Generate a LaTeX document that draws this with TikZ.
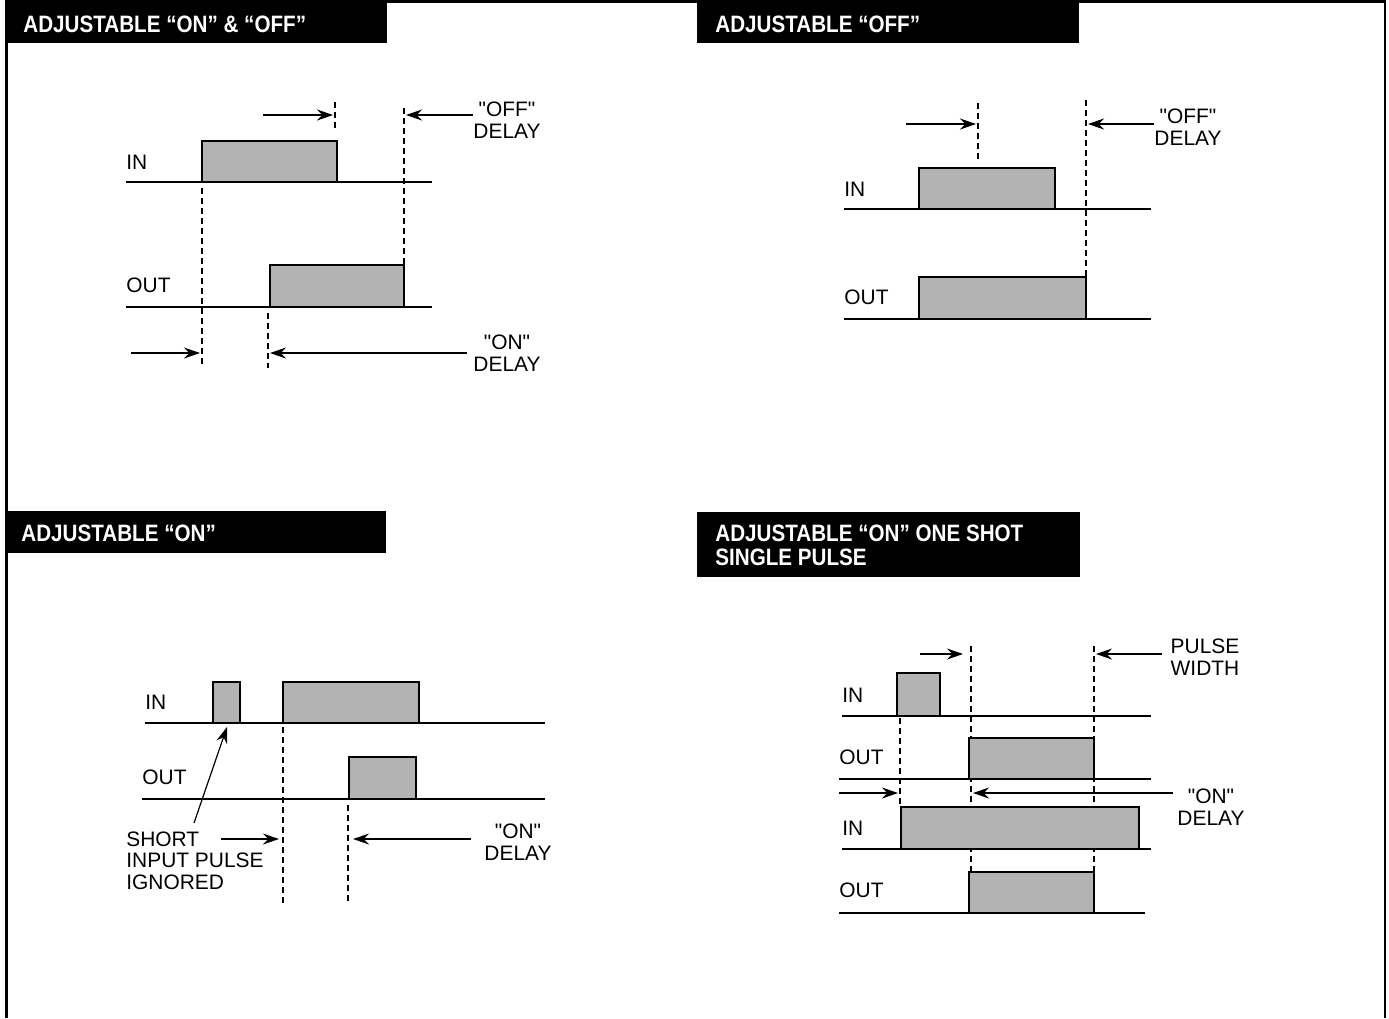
\documentclass[tikz,border=0pt]{standalone}
\usepackage{fontspec}
\setmainfont{Liberation Sans}
\newfontfamily\labelfont{Liberation Sans}
\newfontfamily\titlefont[FakeStretch=0.87]{Liberation Sans}
\definecolor{PulseGray}{HTML}{B3B3B3}
\usetikzlibrary{arrows.meta}

\begin{document}
\begin{tikzpicture}[x=0.5bp, y=-0.5bp,
  >={Stealth[length=8bp, width=5.5bp]},
  wave/.style={line width=1.4bp},
  pulse/.style={draw, line width=1.2bp, fill=PulseGray},
  guide/.style={line width=1bp, dash pattern=on 3bp off 2bp},
  delay/.style={->, line width=0.6bp},
  lbl/.style={font=\labelfont\fontsize{10.5}{10.8}\selectfont, inner sep=0pt},
  ttl/.style={font=\titlefont\bfseries\fontsize{11.9}{11.8}\selectfont,
              text=white, inner sep=0pt, align=left}]
  \useasboundingbox (0,0) rectangle (1389,1018);
  % frame
  \draw[line width=1.3bp] (6.5,1018) |- (1385,1.5) -- (1385,1018);

  % adjustable on & off
  \fill (5,0) rectangle (387,43);
  \node[ttl, anchor=west] (t1) at (23,24) {ADJUSTABLE “ON” \& “OFF”};
  \draw[guide] (202,188) -- (202,368);
  \draw[guide] (268,313) -- (268,368);
  \draw[guide] (335,102) -- (335,131);
  \draw[guide] (404,108) -- (404,265);
  \filldraw[pulse] (202,182) rectangle (337,141);
  \filldraw[pulse] (270,307) rectangle (404,265);
  \draw[wave] (126,182) -- (432,182);
  \draw[wave] (126,307) -- (432,307);
  \node[lbl, anchor=west] (in1) at (126,162) {IN};
  \node[lbl, anchor=west] (out1) at (126,285) {OUT};
  \node[lbl, align=center] (off1) at (507,120) {"OFF"\\DELAY};
  \node[lbl, align=center] (on1) at (507,353) {"ON"\\DELAY};
  \coordinate (a1) at (263,115);   \coordinate (b1) at (333,115);
  \coordinate (a2) at (473,115);   \coordinate (b2) at (406,115);
  \coordinate (a3) at (131,353);   \coordinate (b3) at (200,353);
  \coordinate (a4) at (467,353);   \coordinate (b4) at (270,353);
  \draw[delay] (a1) -- (b1);
  \draw[delay] (a2) -- (b2);
  \draw[delay] (a3) -- (b3);
  \draw[delay] (a4) -- (b4);

  % adjustable off
  \fill (697,0) rectangle (1079,43);
  \node[ttl, anchor=west] (t2) at (715,24) {ADJUSTABLE “OFF”};
  \draw[guide] (978,103) -- (978,163);
  \draw[guide] (1086,100) -- (1086,277);
  \filldraw[pulse] (919,209) rectangle (1055,168);
  \filldraw[pulse] (919,319) rectangle (1086,277);
  \draw[wave] (844,209) -- (1151,209);
  \draw[wave] (844,319) -- (1151,319);
  \node[lbl, anchor=west] (in2) at (844,189) {IN};
  \node[lbl, anchor=west] (out2) at (844,297) {OUT};
  \node[lbl, align=center] (off2) at (1188,127) {"OFF"\\DELAY};
  \coordinate (c1) at (906,124);   \coordinate (d1) at (976,124);
  \coordinate (c2) at (1154,124);  \coordinate (d2) at (1088,124);
  \draw[delay] (c1) -- (d1);
  \draw[delay] (c2) -- (d2);

  % adjustable on
  \fill (5,511) rectangle (386,553);
  \node[ttl, anchor=west] (t3) at (21,533) {ADJUSTABLE “ON”};
  \draw[guide] (283,727) -- (283,903);
  \draw[guide] (348,805) -- (348,903);
  \filldraw[pulse] (213,723) rectangle (240,682);
  \filldraw[pulse] (283,723) rectangle (419,682);
  \filldraw[pulse] (349,799) rectangle (416,757);
  \draw[wave] (145,723) -- (545,723);
  \draw[wave] (142,799) -- (545,799);
  \node[lbl, anchor=west] (in3) at (145,702) {IN};
  \node[lbl, anchor=west] (out3) at (142,777) {OUT};
  \node[lbl, anchor=north west, align=left] (short) at (126,831)
    {SHORT\\INPUT PULSE\\IGNORED};
  \node[lbl, align=center] (on3) at (518,842) {"ON"\\DELAY};
  \coordinate (e1) at (194,823);   \coordinate (f1) at (227,727);
  \coordinate (e2) at (221,839);   \coordinate (f2) at (279,839);
  \coordinate (e3) at (471,839);   \coordinate (f3) at (353,839);
  \draw[delay] (e1) -- (f1);
  \draw[delay] (e2) -- (f2);
  \draw[delay] (e3) -- (f3);

  % one shot single pulse
  \fill (697,512) rectangle (1080,577);
  \node[ttl, anchor=north west] (t4) at (715,525)
    {ADJUSTABLE “ON” ONE SHOT\\SINGLE PULSE};
  \draw[guide] (900,718) -- (900,807);
  \draw[guide] (971,646) -- (971,872);
  \draw[guide] (1094,646) -- (1094,872);
  \filldraw[pulse] (897,716) rectangle (940,673);
  \filldraw[pulse] (969,779) rectangle (1094,738);
  \filldraw[pulse] (901,849) rectangle (1139,807);
  \filldraw[pulse] (969,913) rectangle (1094,872);
  \draw[wave] (842,716) -- (1151,716);
  \draw[wave] (839,779) -- (1151,779);
  \draw[wave] (842,849) -- (1151,849);
  \draw[wave] (839,913) -- (1145,913);
  \node[lbl, anchor=west] (in4) at (842,695) {IN};
  \node[lbl, anchor=west] (out4) at (839,757) {OUT};
  \node[lbl, anchor=west] (in5) at (842,828) {IN};
  \node[lbl, anchor=west] (out5) at (839,890) {OUT};
  \node[lbl, align=center] (width4) at (1205,657) {PULSE\\WIDTH};
  \node[lbl, align=center] (on4) at (1211,807) {"ON"\\DELAY};
  \coordinate (g1) at (920,654);   \coordinate (h1) at (963,654);
  \coordinate (g2) at (1162,654);  \coordinate (h2) at (1096,654);
  \coordinate (g3) at (839,793);   \coordinate (h3) at (898,793);
  \coordinate (g4) at (1173,793);  \coordinate (h4) at (973,793);
  \draw[delay] (g1) -- (h1);
  \draw[delay] (g2) -- (h2);
  \draw[delay] (g3) -- (h3);
  \draw[delay] (g4) -- (h4);
\end{tikzpicture}
\end{document}
